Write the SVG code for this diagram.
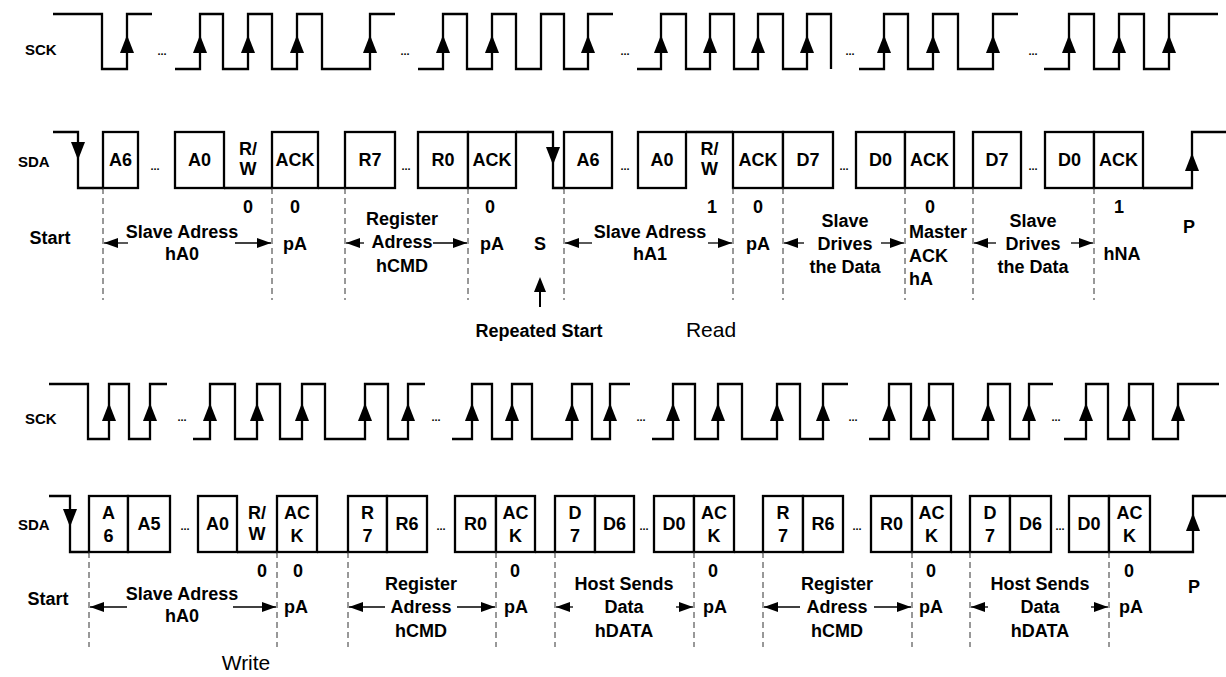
<svg xmlns="http://www.w3.org/2000/svg" xmlns:xlink="http://www.w3.org/1999/xlink" width="1226" height="677" viewBox="0 0 1226 677">
<style>
.w{fill:none;stroke:#000;stroke-width:2.3;stroke-linejoin:miter}
.b{fill:#fff;stroke:#000;stroke-width:2.3}
.dash{stroke:#333;stroke-width:1;stroke-dasharray:6 4}
.ar{stroke:#000;stroke-width:1.3;fill:none}
text{font-family:'Liberation Sans',Arial,sans-serif;font-weight:bold;font-size:18px;fill:#000}
.c{text-anchor:middle}
.sig{font-size:15px}
.dots{font-size:11px;text-anchor:middle}
.big{font-weight:normal;font-size:21px;text-anchor:middle}
</style>
<defs>
<path id="up" d="M0,0 L-7,18 L7,18 Z" fill="#000"/>
<path id="dn" d="M0,0 L-7,-18 L7,-18 Z" fill="#000"/>
<marker id="ah" markerWidth="14" markerHeight="10" refX="14" refY="5" orient="auto" markerUnits="userSpaceOnUse"><path d="M0,0 L14,5 L0,10 Z" fill="#000"/></marker>
</defs>
<rect width="1226" height="677" fill="#fff"/>

<!-- ===== TOP: READ ===== -->
<g id="top-sck">
<text class="sig" x="25" y="55">SCK</text>
<path class="w" d="M53,14 H102 V69 H127 V14 H152"/>
<path class="w" d="M175,69 H200 V14 H223 V69 H248 V14 H272 V69 H297 V14 H322 V69 H370 V14 H395"/>
<path class="w" d="M418,69 H443 V14 H467 V69 H492 V14 H516 V69 H541 V14 H564 V69 H588 V14 H613"/>
<path class="w" d="M637,69 H661 V14 H686 V69 H710 V14 H734 V69 H758 V14 H783 V69 H807 V14 H831 V69"/>
<path class="w" d="M859,69 H884 V14 H908 V69 H933 V14 H958 V69 H993 V14 H1018"/>
<path class="w" d="M1044,69 H1069 V14 H1094 V69 H1119 V14 H1144 V69 H1169 V14 H1218"/>
<text class="dots" x="162" y="55">...</text>
<text class="dots" x="405" y="55">...</text>
<text class="dots" x="625" y="55">...</text>
<text class="dots" x="850" y="55">...</text>
<text class="dots" x="1033" y="55">...</text>
<use xlink:href="#up" x="127" y="35"/><use xlink:href="#up" x="200" y="35"/><use xlink:href="#up" x="248" y="35"/>
<use xlink:href="#up" x="297" y="35"/><use xlink:href="#up" x="370" y="35"/><use xlink:href="#up" x="443" y="35"/>
<use xlink:href="#up" x="492" y="35"/><use xlink:href="#up" x="588" y="35"/><use xlink:href="#up" x="661" y="35"/>
<use xlink:href="#up" x="710" y="35"/><use xlink:href="#up" x="758" y="35"/><use xlink:href="#up" x="807" y="35"/>
<use xlink:href="#up" x="884" y="35"/><use xlink:href="#up" x="933" y="35"/><use xlink:href="#up" x="993" y="35"/>
<use xlink:href="#up" x="1069" y="35"/><use xlink:href="#up" x="1119" y="35"/><use xlink:href="#up" x="1169" y="35"/>
</g>

<g id="top-sda">
<text class="sig" x="18" y="167">SDA</text>
<path class="w" d="M53,132 H78 V188 H103"/>
<path class="w" d="M224,188 H272"/>
<path class="w" d="M318,188 H345"/>
<path class="w" d="M516,132 H553 V188 H564"/>
<path class="w" d="M686,132 H733"/>
<path class="w" d="M954,188 H973"/>
<path class="w" d="M1143,188 H1192 V132 H1226"/>
<use xlink:href="#dn" x="78" y="160"/>
<use xlink:href="#dn" x="553" y="165"/>
<use xlink:href="#up" x="1192" y="153"/>
<rect class="b" x="103" y="132" width="35" height="56"/>
<rect class="b" x="175" y="132" width="49" height="56"/>
<rect class="b" x="272" y="132" width="46" height="56"/>
<rect class="b" x="345" y="132" width="50" height="56"/>
<rect class="b" x="418" y="132" width="50" height="56"/>
<rect class="b" x="468" y="132" width="48" height="56"/>
<rect class="b" x="564" y="132" width="48" height="56"/>
<rect class="b" x="638" y="132" width="48" height="56"/>
<rect class="b" x="733" y="132" width="50" height="56"/>
<rect class="b" x="783" y="132" width="50" height="56"/>
<rect class="b" x="856" y="132" width="49" height="56"/>
<rect class="b" x="905" y="132" width="49" height="56"/>
<rect class="b" x="973" y="132" width="48" height="56"/>
<rect class="b" x="1045" y="132" width="49" height="56"/>
<rect class="b" x="1094" y="132" width="49" height="56"/>
<text class="c" x="120.5" y="166">A6</text>
<text class="c" x="199.5" y="166">A0</text>
<text class="c" x="248" y="155">R/</text><text class="c" x="248" y="175">W</text>
<text class="c" x="295" y="166">ACK</text>
<text class="c" x="370" y="166">R7</text>
<text class="c" x="443" y="166">R0</text>
<text class="c" x="492" y="166">ACK</text>
<text class="c" x="588" y="166">A6</text>
<text class="c" x="662" y="166">A0</text>
<text class="c" x="709.5" y="155">R/</text><text class="c" x="709.5" y="175">W</text>
<text class="c" x="758" y="166">ACK</text>
<text class="c" x="808" y="166">D7</text>
<text class="c" x="880.5" y="166">D0</text>
<text class="c" x="929.5" y="166">ACK</text>
<text class="c" x="997" y="166">D7</text>
<text class="c" x="1069.5" y="166">D0</text>
<text class="c" x="1118.5" y="166">ACK</text>
<text class="dots" x="155" y="170">...</text>
<text class="dots" x="406" y="170">...</text>
<text class="dots" x="625" y="170">...</text>
<text class="dots" x="844" y="170">...</text>
<text class="dots" x="1033" y="170">...</text>
</g>

<g id="top-labels">
<text class="c" x="248" y="213">0</text>
<text class="c" x="295" y="213">0</text>
<text class="c" x="490" y="213">0</text>
<text class="c" x="712" y="213">1</text>
<text class="c" x="758" y="213">0</text>
<text class="c" x="930" y="213">0</text>
<text class="c" x="1119" y="213">1</text>
<text class="c" x="50" y="244">Start</text>
<text class="c" x="182" y="238">Slave Adress</text>
<text class="c" x="182" y="260">hA0</text>
<text class="c" x="295" y="250">pA</text>
<text class="c" x="402" y="225">Register</text>
<text class="c" x="402" y="248">Adress</text>
<text class="c" x="402" y="272">hCMD</text>
<text class="c" x="492" y="250">pA</text>
<text class="c" x="540" y="250">S</text>
<text class="c" x="650" y="238">Slave Adress</text>
<text class="c" x="650" y="260">hA1</text>
<text class="c" x="758" y="250">pA</text>
<text class="c" x="845" y="227">Slave</text>
<text class="c" x="845" y="250">Drives</text>
<text class="c" x="845" y="273">the Data</text>
<text x="909" y="238">Master</text>
<text x="909" y="262">ACK</text>
<text x="909" y="285">hA</text>
<text class="c" x="1033" y="227">Slave</text>
<text class="c" x="1033" y="250">Drives</text>
<text class="c" x="1033" y="273">the Data</text>
<text class="c" x="1122" y="260">hNA</text>
<text class="c" x="1189" y="233">P</text>
<text class="c" x="539" y="337">Repeated Start</text>
<text class="big" x="711" y="337">Read</text>
</g>

<!-- ===== BOTTOM: WRITE ===== -->
<g id="bottom-sck">
<text class="sig" x="25" y="424">SCK</text>
<path class="w" d="M49,384 H88 V439 H109 V384 H129 V439 H150 V384 H167"/>
<path class="w" d="M193,439 H210 V384 H235 V439 H257 V384 H280 V439 H302 V384 H325 V439 H365 V384 H388 V439 H408 V384 H425"/>
<path class="w" d="M452,439 H472 V384 H492 V439 H512 V384 H532 V439 H572 V384 H592 V439 H610 V384 H630"/>
<path class="w" d="M652,439 H673 V384 H695 V439 H718 V384 H742 V439 H777 V384 H800 V439 H823 V384 H848"/>
<path class="w" d="M869,439 H889 V384 H911 V439 H929 V384 H953 V439 H988 V384 H1010 V439 H1029 V384 H1053"/>
<path class="w" d="M1064,439 H1086 V384 H1108 V439 H1129 V384 H1153 V439 H1178 V384 H1219"/>
<text class="dots" x="182" y="421">...</text>
<text class="dots" x="436" y="421">...</text>
<text class="dots" x="641" y="421">...</text>
<text class="dots" x="853" y="421">...</text>
<text class="dots" x="1056" y="421">...</text>
<use xlink:href="#up" x="109" y="403"/><use xlink:href="#up" x="150" y="403"/><use xlink:href="#up" x="210" y="403"/>
<use xlink:href="#up" x="257" y="403"/><use xlink:href="#up" x="302" y="403"/><use xlink:href="#up" x="365" y="403"/>
<use xlink:href="#up" x="408" y="403"/><use xlink:href="#up" x="472" y="403"/><use xlink:href="#up" x="512" y="403"/>
<use xlink:href="#up" x="572" y="403"/><use xlink:href="#up" x="610" y="403"/><use xlink:href="#up" x="673" y="403"/>
<use xlink:href="#up" x="718" y="403"/><use xlink:href="#up" x="777" y="403"/><use xlink:href="#up" x="823" y="403"/>
<use xlink:href="#up" x="889" y="403"/><use xlink:href="#up" x="929" y="403"/><use xlink:href="#up" x="988" y="403"/>
<use xlink:href="#up" x="1029" y="403"/><use xlink:href="#up" x="1086" y="403"/><use xlink:href="#up" x="1129" y="403"/>
<use xlink:href="#up" x="1178" y="403"/>
</g>

<g id="bottom-sda">
<text class="sig" x="18" y="530">SDA</text>
<path class="w" d="M49,496 H70 V552 H89"/>
<path class="w" d="M237,552 H277"/>
<path class="w" d="M317,552 H348"/>
<path class="w" d="M535,552 H555"/>
<path class="w" d="M734,552 H763"/>
<path class="w" d="M951,552 H970"/>
<path class="w" d="M1150,552 H1193 V496 H1226"/>
<use xlink:href="#dn" x="70" y="527"/>
<use xlink:href="#up" x="1193" y="513"/>
<rect class="b" x="89" y="496" width="39" height="56"/>
<rect class="b" x="128" y="496" width="42" height="56"/>
<rect class="b" x="198" y="496" width="39" height="56"/>
<rect class="b" x="277" y="496" width="40" height="56"/>
<rect class="b" x="348" y="496" width="39" height="56"/>
<rect class="b" x="387" y="496" width="40" height="56"/>
<rect class="b" x="455" y="496" width="41" height="56"/>
<rect class="b" x="496" y="496" width="39" height="56"/>
<rect class="b" x="555" y="496" width="40" height="56"/>
<rect class="b" x="595" y="496" width="39" height="56"/>
<rect class="b" x="654" y="496" width="40" height="56"/>
<rect class="b" x="694" y="496" width="40" height="56"/>
<rect class="b" x="763" y="496" width="40" height="56"/>
<rect class="b" x="803" y="496" width="40" height="56"/>
<rect class="b" x="871" y="496" width="41" height="56"/>
<rect class="b" x="912" y="496" width="39" height="56"/>
<rect class="b" x="970" y="496" width="40" height="56"/>
<rect class="b" x="1010" y="496" width="41" height="56"/>
<rect class="b" x="1069" y="496" width="40" height="56"/>
<rect class="b" x="1109" y="496" width="41" height="56"/>
<text class="c" x="108.5" y="519">A</text><text class="c" x="108.5" y="542">6</text>
<text class="c" x="149" y="530">A5</text>
<text class="c" x="217.5" y="530">A0</text>
<text class="c" x="257" y="519">R/</text><text class="c" x="257" y="540">W</text>
<text class="c" x="297" y="519">AC</text><text class="c" x="297" y="542">K</text>
<text class="c" x="367.5" y="519">R</text><text class="c" x="367.5" y="542">7</text>
<text class="c" x="407" y="530">R6</text>
<text class="c" x="475.5" y="530">R0</text>
<text class="c" x="515.5" y="519">AC</text><text class="c" x="515.5" y="542">K</text>
<text class="c" x="575" y="519">D</text><text class="c" x="575" y="542">7</text>
<text class="c" x="614.5" y="530">D6</text>
<text class="c" x="674" y="530">D0</text>
<text class="c" x="714" y="519">AC</text><text class="c" x="714" y="542">K</text>
<text class="c" x="783" y="519">R</text><text class="c" x="783" y="542">7</text>
<text class="c" x="823" y="530">R6</text>
<text class="c" x="891.5" y="530">R0</text>
<text class="c" x="931.5" y="519">AC</text><text class="c" x="931.5" y="542">K</text>
<text class="c" x="990" y="519">D</text><text class="c" x="990" y="542">7</text>
<text class="c" x="1030.5" y="530">D6</text>
<text class="c" x="1089" y="530">D0</text>
<text class="c" x="1129.5" y="519">AC</text><text class="c" x="1129.5" y="542">K</text>
<text class="dots" x="185" y="530">...</text>
<text class="dots" x="441" y="530">...</text>
<text class="dots" x="644" y="530">...</text>
<text class="dots" x="857" y="530">...</text>
<text class="dots" x="1060" y="530">...</text>
</g>

<g id="bottom-labels">
<text class="c" x="262" y="577">0</text>
<text class="c" x="298" y="577">0</text>
<text class="c" x="515" y="577">0</text>
<text class="c" x="713" y="577">0</text>
<text class="c" x="931" y="577">0</text>
<text class="c" x="1129" y="577">0</text>
<text class="c" x="48" y="605">Start</text>
<text class="c" x="182" y="600">Slave Adress</text>
<text class="c" x="182" y="622">hA0</text>
<text class="c" x="296" y="613">pA</text>
<text class="c" x="421" y="590">Register</text>
<text class="c" x="421" y="613">Adress</text>
<text class="c" x="421" y="637">hCMD</text>
<text class="c" x="516" y="613">pA</text>
<text class="c" x="624" y="590">Host Sends</text>
<text class="c" x="624" y="613">Data</text>
<text class="c" x="624" y="637">hDATA</text>
<text class="c" x="715" y="613">pA</text>
<text class="c" x="837" y="590">Register</text>
<text class="c" x="837" y="613">Adress</text>
<text class="c" x="837" y="637">hCMD</text>
<text class="c" x="931" y="613">pA</text>
<text class="c" x="1040" y="590">Host Sends</text>
<text class="c" x="1040" y="613">Data</text>
<text class="c" x="1040" y="637">hDATA</text>
<text class="c" x="1131" y="613">pA</text>
<text class="c" x="1194" y="593">P</text>
<text class="big" x="246" y="670">Write</text>
</g>

<g id="connectors">
<g id="top-dashes">
<line class="dash" x1="103" y1="188" x2="103" y2="300"/>
<line class="dash" x1="272" y1="188" x2="272" y2="300"/>
<line class="dash" x1="345" y1="188" x2="345" y2="300"/>
<line class="dash" x1="468" y1="188" x2="468" y2="300"/>
<line class="dash" x1="564" y1="188" x2="564" y2="300"/>
<line class="dash" x1="733" y1="188" x2="733" y2="300"/>
<line class="dash" x1="783" y1="188" x2="783" y2="300"/>
<line class="dash" x1="905" y1="188" x2="905" y2="300"/>
<line class="dash" x1="973" y1="188" x2="973" y2="300"/>
<line class="dash" x1="1094" y1="188" x2="1094" y2="300"/>
</g>
<g id="bottom-dashes">
<line class="dash" x1="89" y1="552" x2="89" y2="647"/>
<line class="dash" x1="277" y1="552" x2="277" y2="647"/>
<line class="dash" x1="348" y1="552" x2="348" y2="647"/>
<line class="dash" x1="496" y1="552" x2="496" y2="647"/>
<line class="dash" x1="555" y1="552" x2="555" y2="647"/>
<line class="dash" x1="694" y1="552" x2="694" y2="647"/>
<line class="dash" x1="763" y1="552" x2="763" y2="647"/>
<line class="dash" x1="912" y1="552" x2="912" y2="647"/>
<line class="dash" x1="970" y1="552" x2="970" y2="647"/>
<line class="dash" x1="1109" y1="552" x2="1109" y2="647"/>
</g>
<g id="top-arrows">
<line class="ar" x1="128" y1="243" x2="104" y2="243" marker-end="url(#ah)"/>
<line class="ar" x1="235" y1="243" x2="271" y2="243" marker-end="url(#ah)"/>
<line class="ar" x1="364" y1="243" x2="346" y2="243" marker-end="url(#ah)"/>
<line class="ar" x1="433" y1="243" x2="467" y2="243" marker-end="url(#ah)"/>
<line class="ar" x1="592" y1="243" x2="565" y2="243" marker-end="url(#ah)"/>
<line class="ar" x1="708" y1="243" x2="732" y2="243" marker-end="url(#ah)"/>
<line class="ar" x1="804" y1="243" x2="784" y2="243" marker-end="url(#ah)"/>
<line class="ar" x1="881" y1="243" x2="904" y2="243" marker-end="url(#ah)"/>
<line class="ar" x1="996" y1="243" x2="974" y2="243" marker-end="url(#ah)"/>
<line class="ar" x1="1071" y1="243" x2="1093" y2="243" marker-end="url(#ah)"/>
<line x1="540" y1="307" x2="540" y2="290" stroke="#000" stroke-width="2"/>
<path d="M540,277 L534,292 L546,292 Z" fill="#000"/>
</g>
<g id="bottom-arrows">
<line class="ar" x1="127" y1="607" x2="90" y2="607" marker-end="url(#ah)"/>
<line class="ar" x1="233" y1="607" x2="276" y2="607" marker-end="url(#ah)"/>
<line class="ar" x1="385" y1="607" x2="349" y2="607" marker-end="url(#ah)"/>
<line class="ar" x1="457" y1="607" x2="495" y2="607" marker-end="url(#ah)"/>
<line class="ar" x1="573" y1="607" x2="556" y2="607" marker-end="url(#ah)"/>
<line class="ar" x1="676" y1="607" x2="693" y2="607" marker-end="url(#ah)"/>
<line class="ar" x1="800" y1="607" x2="764" y2="607" marker-end="url(#ah)"/>
<line class="ar" x1="874" y1="607" x2="911" y2="607" marker-end="url(#ah)"/>
<line class="ar" x1="988" y1="607" x2="971" y2="607" marker-end="url(#ah)"/>
<line class="ar" x1="1091" y1="607" x2="1108" y2="607" marker-end="url(#ah)"/>
</g>
</g>
</svg>
